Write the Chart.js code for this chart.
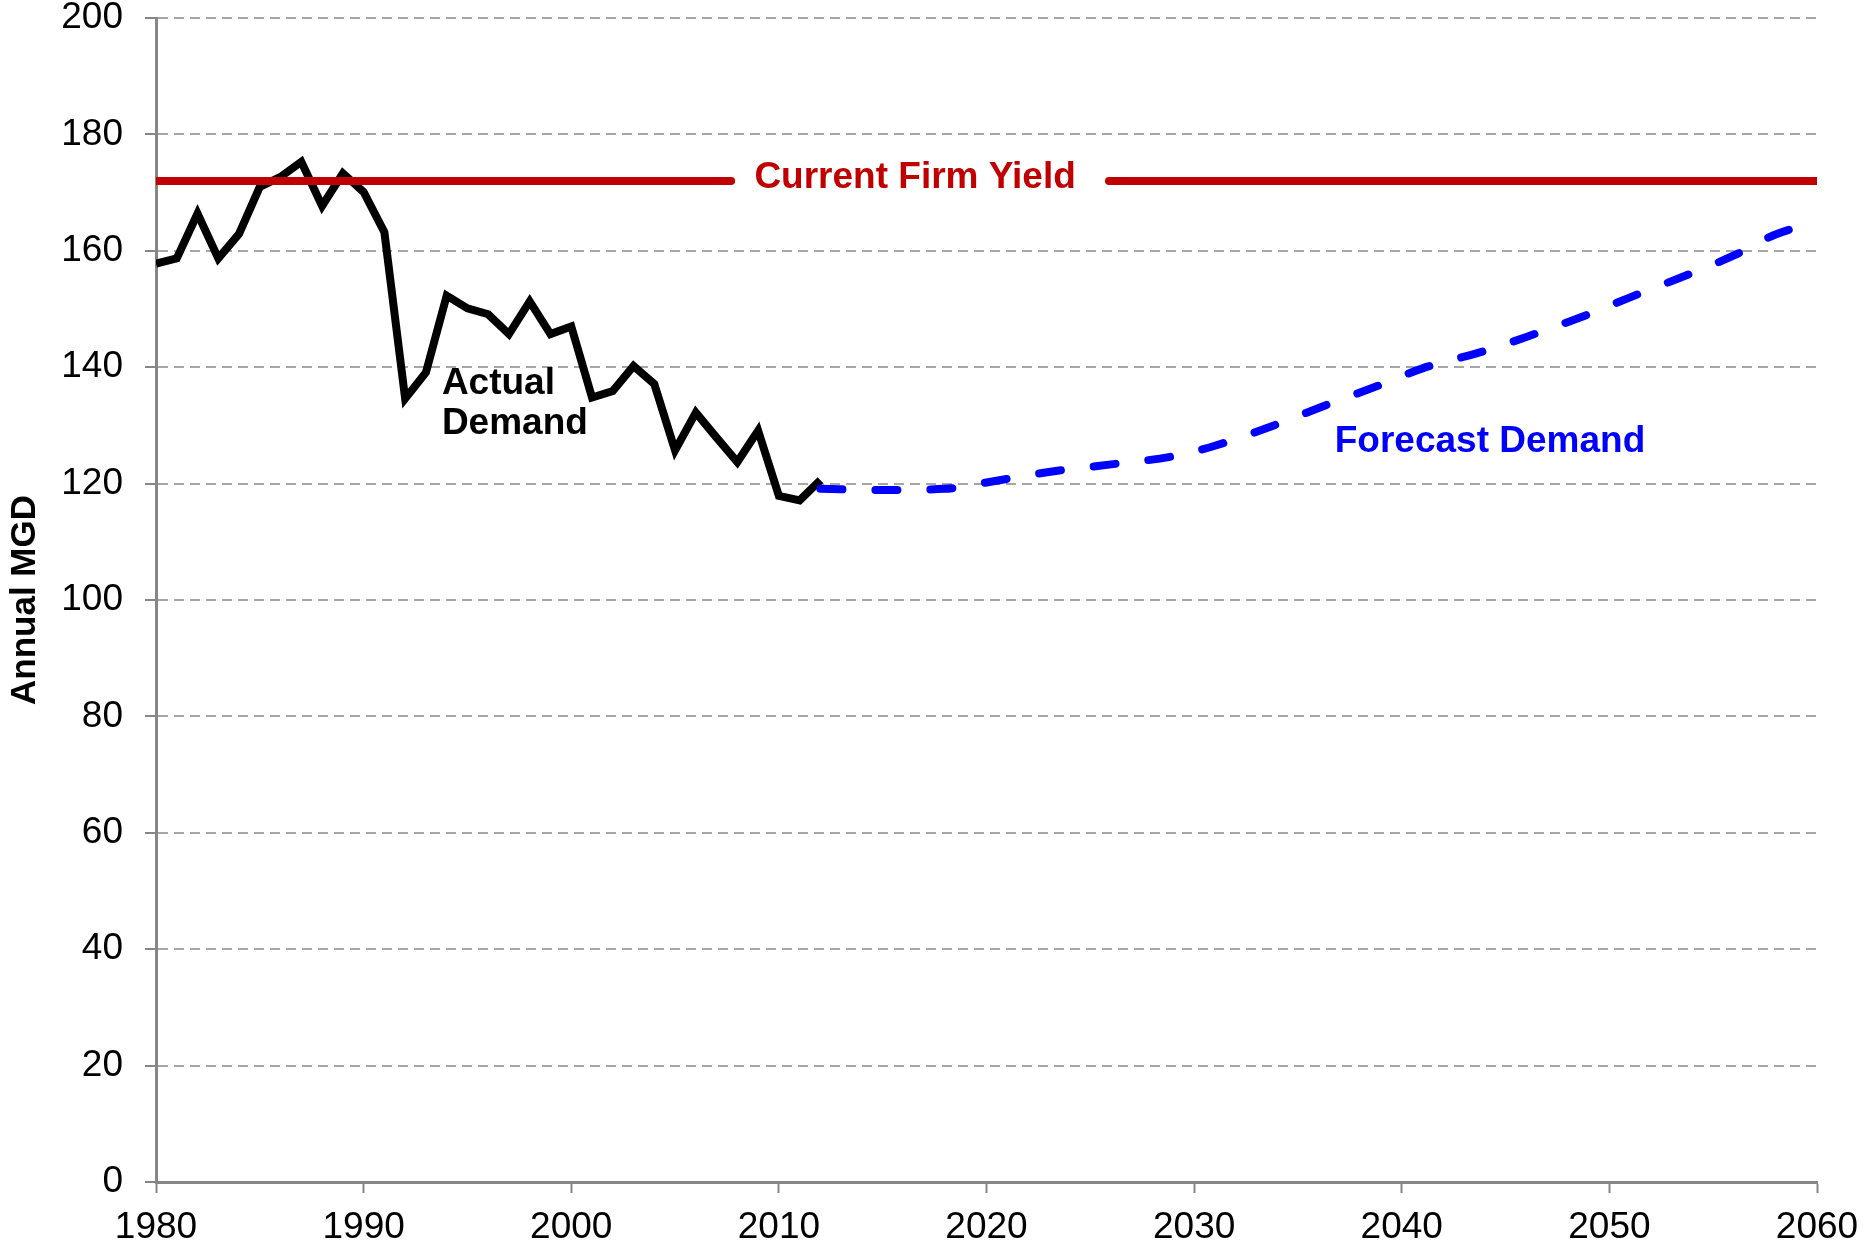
<!DOCTYPE html>
<html>
<head>
<meta charset="utf-8">
<script src="https://cdn.jsdelivr.net/npm/chart.js@4/dist/chart.umd.min.js"></script>
<style>
  html, body { margin: 0; padding: 0; background: #ffffff; }
  #wrap { width: 1868px; height: 1250px; position: relative; }
</style>
</head>
<body>
<div id="wrap"><canvas id="c" width="1868" height="1250"></canvas></div>
<script>
// ---- Data ----
const actualYears = [1980,1981,1982,1983,1984,1985,1986,1987,1988,1989,1990,1991,1992,1993,1994,1995,1996,1997,1998,1999,2000,2001,2002,2003,2004,2005,2006,2007,2008,2009,2010,2011,2012];
const actualValues = [157.8,158.7,166.4,158.7,162.9,171.0,172.7,175.3,167.7,173.3,170.1,163.2,134.6,139.1,152.3,150.1,149.1,145.7,151.3,145.7,147.0,134.8,135.9,140.2,137.1,125.7,132.2,127.9,123.7,129.1,117.9,117.1,120.6];

const forecastYears = [2012,2015,2018,2020,2023,2026,2029,2031,2034,2036,2039,2041,2044,2046,2049,2051,2054,2056,2058,2060];
const forecastValues = [119.1,118.9,119.1,120.2,122.0,123.3,124.7,126.5,130.2,133.0,137.0,139.8,142.8,145.2,149.1,152.0,156.2,159.2,162.8,165.0];

const firmYears = [1980, 2007.7, 2016.8, 2025.9, 2060];
const firmValues = [172, 172, null, 172, 172];

const xTicks = [1980,1990,2000,2010,2020,2030,2040,2050,2060];
const yTicks = [0,20,40,60,80,100,120,140,160,180,200];

const labelTexts  = ["Current Firm Yield", "Actual", "Demand", "Forecast Demand"];
const labelYears  = [2016.56, 1993.77, 1993.77, 2044.25];
const labelValues = [170.8, 135.4, 128.5, 125.4];
const labelColors = ["#C00000", "#000000", "#000000", "#0000FF"];
const labelAligns = ["center", "left", "left", "center"];

// ---- Build ----
const toPts = (xs, ys) => xs.map((x, i) => ({x: x, y: ys[i]}));
const FONT = "'Liberation Sans', Arial, sans-serif";

const textPlugin = {
  id: 'textLabels',
  afterDatasetsDraw(chart) {
    const ctx = chart.ctx;
    const xs = chart.scales.x, ys = chart.scales.y;
    ctx.save();
    ctx.font = "bold 37px " + FONT;
    ctx.textBaseline = 'alphabetic';
    labelTexts.forEach((t, i) => {
      ctx.fillStyle = labelColors[i];
      ctx.textAlign = labelAligns[i];
      ctx.fillText(t, xs.getPixelForValue(labelYears[i]), ys.getPixelForValue(labelValues[i]));
    });
    ctx.restore();
  }
};

new Chart(document.getElementById('c'), {
  type: 'line',
  data: {
    datasets: [
      {
        label: 'Current Firm Yield',
        data: toPts(firmYears, firmValues),
        borderColor: '#C00000',
        borderWidth: 8,
        pointRadius: 0,
        spanGaps: false,
        borderCapStyle: 'round',
        tension: 0
      },
      {
        label: 'Forecast Demand',
        data: toPts(forecastYears, forecastValues),
        borderColor: '#0000FF',
        borderWidth: 8,
        pointRadius: 0,
        borderDash: [22, 33],
        borderCapStyle: 'round',
        cubicInterpolationMode: 'monotone',
        tension: 0.4
      },
      {
        label: 'Actual Demand',
        data: toPts(actualYears, actualValues),
        borderColor: '#000000',
        borderWidth: 8,
        pointRadius: 0,
        borderJoinStyle: 'miter',
        tension: 0
      }
    ]
  },
  options: {
    responsive: false,
    animation: false,
    layout: { padding: { top: 18, right: 51, left: 0, bottom: 0 } },
    plugins: { legend: { display: false }, tooltip: { enabled: false } },
    scales: {
      x: {
        type: 'linear',
        min: 1980, max: 2060,
        afterBuildTicks: (s) => { s.ticks = xTicks.map(v => ({value: v})); },
        afterFit: (s) => { s.height = 68; s.paddingLeft = 0; s.paddingRight = 0; },
        grid: { drawOnChartArea: false, drawTicks: true, tickLength: 11, tickColor: '#868686', tickWidth: 2 },
        border: { color: '#868686', width: 3 },
        ticks: {
          color: '#000000',
          font: { family: FONT, size: 37 },
          padding: 13,
          maxRotation: 0,
          callback: (v) => String(v)
        }
      },
      y: {
        min: 0, max: 200,
        afterBuildTicks: (s) => { s.ticks = yTicks.map(v => ({value: v})); },
        afterFit: (s) => { s.width = 156; s.paddingTop = 0; s.paddingBottom = 0; },
        grid: { color: '#A6A6A6', lineWidth: 2, tickLength: 11, tickColor: '#868686', tickWidth: 2, tickBorderDash: [] },
        border: { color: '#868686', width: 3, dash: [10, 6] },
        ticks: {
          color: '#000000',
          font: { family: FONT, size: 37, lineHeight: 1.0 },
          padding: 22
        },
        title: {
          display: true,
          text: 'Annual MGD',
          color: '#000000',
          font: { family: FONT, size: 35, weight: 'bold' },
          padding: { top: 4, bottom: 4 }
        }
      }
    }
  },
  plugins: [textPlugin]
});
</script>
</body>
</html>
